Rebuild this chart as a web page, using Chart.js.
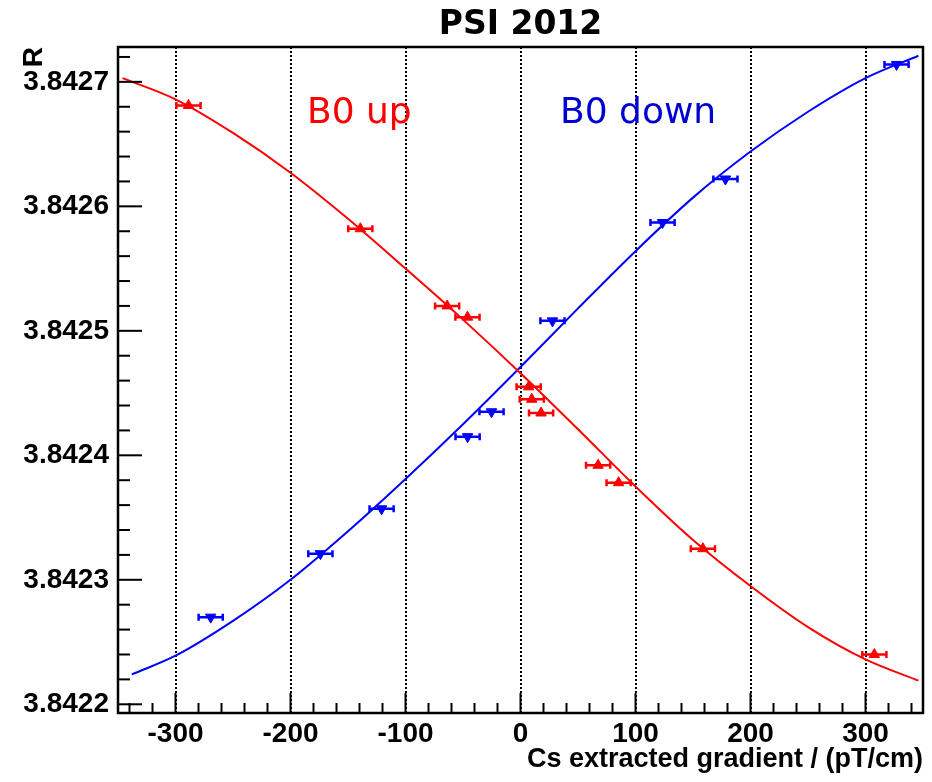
<!DOCTYPE html>
<html>
<head>
<meta charset="utf-8">
<title>PSI 2012</title>
<script src="https://cdn.jsdelivr.net/npm/chart.js@4.4.0/dist/chart.umd.min.js"></script>
<style>
  html, body { margin: 0; padding: 0; background: #fff; }
  #wrap { width: 932px; height: 782px; }
</style>
</head>
<body>
<div id="wrap"><canvas id="psiChart" width="932" height="782"></canvas></div>
<script>
// measured points (B0 up = red, B0 down = blue)
const upX = [-288.7, -139.3, -63.8, -46.1, 7.1, 9.8, 17.9, 67.5, 85.3, 158.6, 307.7];
const upR = [3.842681, 3.842582, 3.842520, 3.842511, 3.842455, 3.842445, 3.842434, 3.842392, 3.842378, 3.842325, 3.842240];
const downX = [-269.4, -174.0, -120.8, -46.0, -25.2, 27.8, 123.5, 178.2, 327.0];
const downR = [3.842270, 3.842321, 3.842357, 3.842415, 3.842435, 3.842508, 3.842587, 3.842622, 3.842714];
const xErr = 10.5;

// fit curves
const upFitX = [-346, -300, -250, -200, -150, -100, -50, 0, 50, 100, 150, 200, 250, 300, 346];
const upFitR = [3.842703, 3.842686, 3.842659, 3.842627, 3.842590, 3.842550, 3.842509, 3.842466, 3.842421, 3.842375, 3.842332, 3.842295, 3.842262, 3.842236, 3.842219];
const downFitX = [-338, -300, -250, -200, -150, -100, -50, 0, 50, 100, 150, 200, 250, 300, 346];
const downFitR = [3.842224, 3.842239, 3.842267, 3.842300, 3.842339, 3.842381, 3.842425, 3.842471, 3.842518, 3.842564, 3.842607, 3.842644, 3.842676, 3.842703, 3.842721];

const xTicks = [-300, -200, -100, 0, 100, 200, 300];
const yTicks = [3.8422, 3.8423, 3.8424, 3.8425, 3.8426, 3.8427];

const toXY = (xs, ys) => xs.map((v, i) => ({x: v, y: ys[i]}));
const axisFont = {family: 'Liberation Sans, Arial, sans-serif', weight: 'bold', size: 28};

// horizontal error bars with end caps
const errorBars = {
  id: 'errorBars',
  afterDatasetsDraw(chart) {
    const {ctx, scales: {x}} = chart;
    chart.data.datasets.forEach((ds, i) => {
      if (!ds.xErr) return;
      const meta = chart.getDatasetMeta(i);
      ctx.save();
      ctx.strokeStyle = ds.borderColor;
      ctx.lineWidth = 2.5;
      meta.data.forEach((pt, j) => {
        const v = ds.data[j].x;
        const x1 = x.getPixelForValue(v - ds.xErr);
        const x2 = x.getPixelForValue(v + ds.xErr);
        ctx.beginPath();
        ctx.moveTo(x1, pt.y); ctx.lineTo(x2, pt.y);
        ctx.moveTo(x1, pt.y - 3.5); ctx.lineTo(x1, pt.y + 3.5);
        ctx.moveTo(x2, pt.y - 3.5); ctx.lineTo(x2, pt.y + 3.5);
        ctx.stroke();
      });
      ctx.restore();
    });
  }
};

// ROOT style frame with ticks on the inside
const frame = {
  id: 'frame',
  afterDraw(chart) {
    const {ctx, chartArea: a, scales: {x, y}} = chart;
    ctx.save();
    ctx.strokeStyle = '#000';
    ctx.lineWidth = 2;
    for (let v = -340; v <= 340; v += 20) {
      const px = x.getPixelForValue(v);
      const len = v % 100 === 0 ? 20 : 10;
      ctx.beginPath(); ctx.moveTo(px, a.bottom); ctx.lineTo(px, a.bottom - len); ctx.stroke();
    }
    for (let i = 0; i <= 26; i++) {
      const py = y.getPixelForValue(3.8422 + i * 0.00002);
      const len = i % 5 === 0 ? 24 : 12;
      ctx.beginPath(); ctx.moveTo(a.left, py); ctx.lineTo(a.left + len, py); ctx.stroke();
    }
    ctx.lineWidth = 2.5;
    ctx.strokeRect(a.left, a.top, a.right - a.left, a.bottom - a.top);

    ctx.font = '36px "DejaVu Sans", sans-serif';
    ctx.textBaseline = 'alphabetic';
    ctx.fillStyle = '#ff0000';
    ctx.fillText('B0 up', 307, 123);
    ctx.fillStyle = '#0000d0';
    ctx.fillText('B0 down', 560, 123);
    ctx.restore();
  }
};

new Chart(document.getElementById('psiChart'), {
  type: 'scatter',
  data: {
    datasets: [
      {
        label: 'B0 up', data: toXY(upX, upR), xErr: xErr,
        pointStyle: 'triangle', pointRadius: 6, pointHoverRadius: 6,
        backgroundColor: '#ff0000', borderColor: '#ff0000', borderWidth: 1
      },
      {
        label: 'B0 down', data: toXY(downX, downR), xErr: xErr,
        pointStyle: 'triangle', rotation: 180, pointRadius: 6, pointHoverRadius: 6,
        backgroundColor: '#0000ff', borderColor: '#0000ff', borderWidth: 1
      },
      {
        label: 'fit up', data: toXY(upFitX, upFitR), showLine: true,
        cubicInterpolationMode: 'monotone', pointRadius: 0,
        borderColor: '#ff0000', borderWidth: 2, fill: false
      },
      {
        label: 'fit down', data: toXY(downFitX, downFitR), showLine: true,
        cubicInterpolationMode: 'monotone', pointRadius: 0,
        borderColor: '#0000ff', borderWidth: 2, fill: false
      }
    ]
  },
  options: {
    responsive: false,
    animation: false,
    layout: {padding: {left: 0, right: 9, top: 0, bottom: 0}},
    plugins: {
      legend: {display: false},
      tooltip: {enabled: false},
      title: {
        display: true, fullSize: false, text: 'PSI 2012', color: '#000',
        font: {family: 'DejaVu Sans, sans-serif', weight: 'bold', size: 33},
        padding: {top: 6, bottom: 1.4}
      }
    },
    scales: {
      x: {
        type: 'linear', min: -350, max: 350,
        afterBuildTicks: s => { s.ticks = xTicks.map(v => ({value: v})); },
        afterFit: s => { s.height = 69; },
        ticks: {font: axisFont, color: '#000', padding: 4, maxRotation: 0, autoSkip: false},
        grid: {color: '#000', lineWidth: 2, drawTicks: false},
        border: {display: false, dash: [2, 2]},
        title: {
          display: true, text: 'Cs extracted gradient / (pT/cm)', align: 'end', color: '#000',
          font: {family: 'Liberation Sans, Arial, sans-serif', weight: 'bold', size: 27},
          padding: {top: 0, bottom: 6.5}
        }
      },
      y: {
        type: 'linear', min: 3.842193, max: 3.842728,
        afterBuildTicks: s => { s.ticks = yTicks.map(v => ({value: v})); },
        afterFit: s => { s.width = 118; },
        ticks: {font: axisFont, color: '#000', padding: 9, callback: v => v.toFixed(4)},
        grid: {drawOnChartArea: false, drawTicks: false},
        border: {display: false},
        title: {
          display: true, text: 'R', align: 'end', color: '#000',
          font: axisFont, padding: {top: 17, bottom: 0}
        }
      }
    }
  },
  plugins: [errorBars, frame]
});
</script>
</body>
</html>
